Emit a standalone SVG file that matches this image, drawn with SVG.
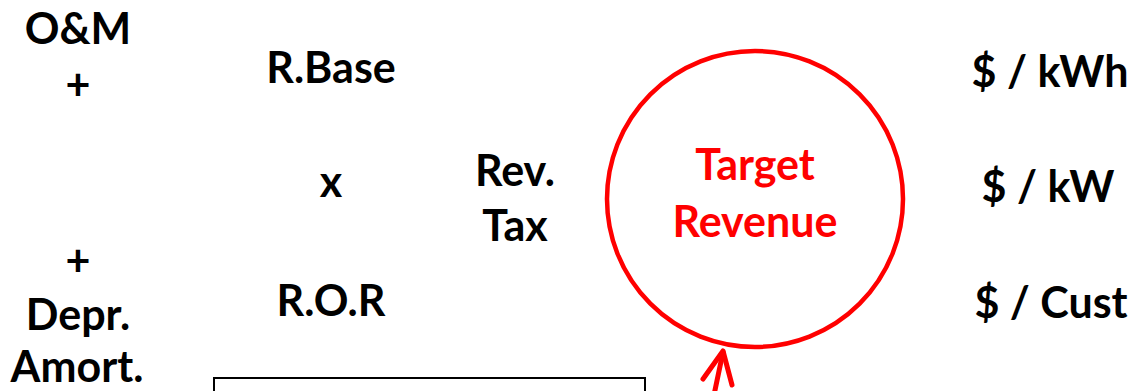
<svg xmlns="http://www.w3.org/2000/svg" width="1135" height="391" viewBox="0 0 1135 391">
<style>
.t{font-family:Lato,"Open Sans","Liberation Sans",sans-serif;font-weight:bold;font-size:43px;fill:#000;text-anchor:middle}
.r{fill:#ff0000}
</style>
<rect width="1135" height="391" fill="#fff"/>
<g id="om"><text class="t" x="78" y="44">O&amp;M</text><text class="t" x="78" y="100">+</text></g>
<g id="depr"><text class="t" x="78" y="276">+</text><text class="t" x="78" y="330">Depr.</text><text class="t" x="77" y="382">Amort.</text></g>
<g id="rbase"><text class="t" x="331" y="83">R.Base</text></g>
<g id="times"><text class="t" x="331" y="197">x</text></g>
<g id="ror"><text class="t" x="331" y="316">R.O.R</text></g>
<g id="revtax"><text class="t" x="515" y="186">Rev.</text><text class="t" x="515" y="241">Tax</text></g>
<g id="target"><circle cx="755" cy="199" r="148" fill="none" stroke="#ff0000" stroke-width="4.5"/><text class="t r" x="755" y="180">Target</text><text class="t r" x="755" y="237">Revenue</text></g>
<g id="kwh"><text class="t" x="1050" y="87">$ / kWh</text></g>
<g id="kw"><text class="t" x="1048" y="202">$ / kW</text></g>
<g id="cust"><text class="t" x="1051" y="318">$ / Cust</text></g>
<g id="box"><rect x="214" y="378" width="431" height="30" fill="none" stroke="#000" stroke-width="2"/></g>
<g id="connectors" stroke="#ff0000" stroke-width="5" stroke-linecap="round" stroke-linejoin="round" fill="none">
<path d="M714 395 L723 352"/>
<path d="M703 379 L723 351 L732 385"/>
</g>
</svg>
